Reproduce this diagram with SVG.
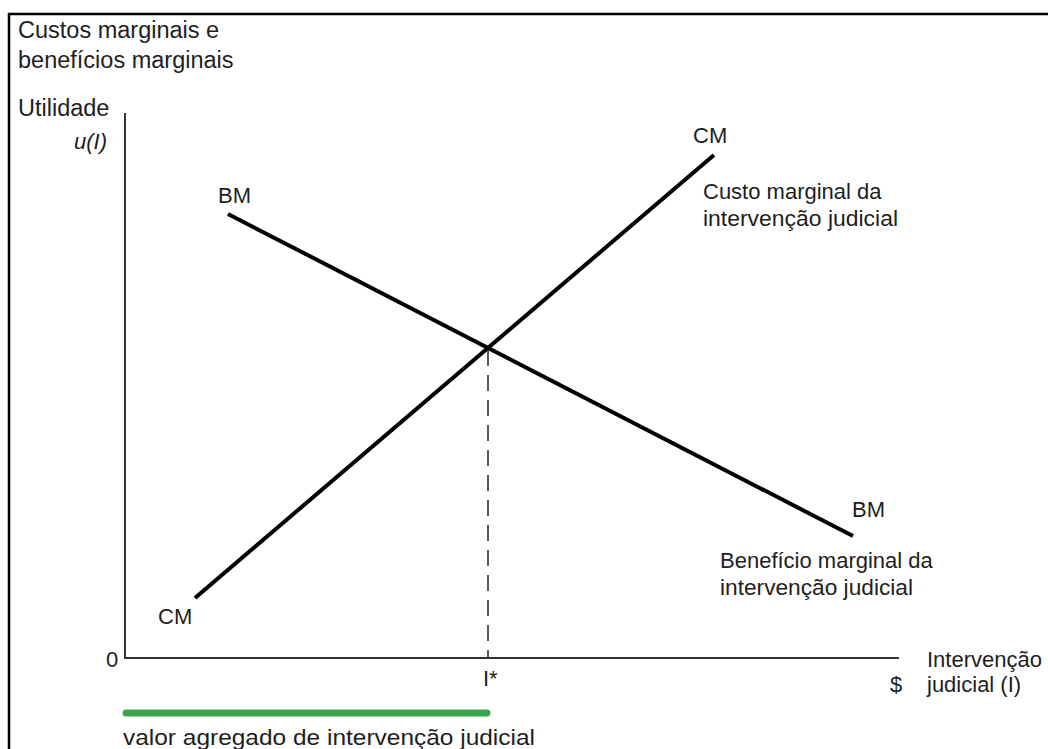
<svg xmlns="http://www.w3.org/2000/svg" width="1048" height="749" viewBox="0 0 1048 749">
<style>
text{font-family:"Liberation Sans",Arial,sans-serif;font-size:22px;fill:#1e1e1e}
.big{font-size:23.5px}
.axis{stroke:#333;stroke-width:2;fill:none}
.curve{stroke:#000;stroke-width:4;fill:none;stroke-linecap:butt}
.dash{stroke:#333;stroke-width:1.6;stroke-dasharray:16 9;fill:none}
</style>
<rect x="0" y="0" width="1048" height="749" fill="#fff"/>
<g id="frame">
<path d="M9,749 V14 H1048" fill="none" stroke="#000" stroke-width="2.5"/>
</g>
<g id="axes">
<path class="axis" d="M125,113 V658 H899"/>
<text x="106" y="667">0</text>
<text x="483" y="686">I*</text>
<text x="890" y="692">$</text>
</g>
<g id="y-label">
<text class="big" x="18" y="38">Custos marginais e</text>
<text class="big" x="18" y="68">benefícios marginais</text>
<text class="big" x="18" y="116">Utilidade</text>
<text x="74" y="149" font-style="italic">u(I)</text>
</g>
<g id="x-label">
<text x="927" y="667" font-size="22.8">Intervenção</text>
<text x="927" y="692" font-size="22.8">judicial (I)</text>
</g>
<g id="connectors">
<line class="curve" x1="195" y1="598" x2="714" y2="155"/>
<line class="curve" x1="228" y1="214" x2="853" y2="536"/>
<line class="dash" x1="488" y1="350" x2="488" y2="658"/>
</g>
<g id="cm-curve">
<text x="693" y="143">CM</text>
<text x="158" y="624">CM</text>
<text x="703" y="199">Custo marginal da</text>
<text x="703" y="226" textLength="195" lengthAdjust="spacingAndGlyphs">intervenção judicial</text>
</g>
<g id="bm-curve">
<text x="218" y="203">BM</text>
<text x="852" y="517">BM</text>
<text x="720" y="568">Benefício marginal da</text>
<text x="720" y="595" textLength="193" lengthAdjust="spacingAndGlyphs">intervenção judicial</text>
</g>
<g id="value-bar">
<line x1="126" y1="713" x2="487" y2="713" stroke="#3aa64a" stroke-width="7" stroke-linecap="round"/>
<text x="123" y="745" font-size="25.5" textLength="412" lengthAdjust="spacingAndGlyphs">valor agregado de intervenção judicial</text>
</g>
</svg>
